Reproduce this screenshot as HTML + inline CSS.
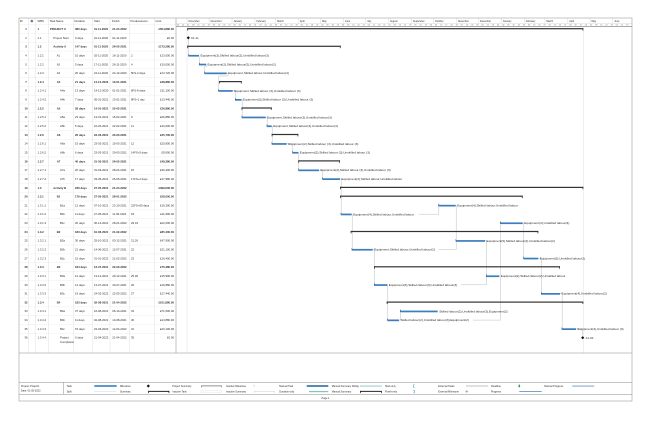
<!DOCTYPE html>
<html><head><meta charset="utf-8"><style>
html,body{margin:0;padding:0;background:#fff;width:650px;height:421px;overflow:hidden}
svg{display:block}
text{font-family:"Liberation Sans",sans-serif;fill:#2a2a2a}
.t text{font-size:2.8px}
.b{font-weight:bold}
.lb{font-size:3.1px;fill:#333}
.c{text-anchor:middle}
.r{text-anchor:end}
.mo{font-size:2.4px;fill:#555}
.wk{font-size:1.9px;fill:#666}
.lg{font-size:2.5px;fill:#333}
</style></head><body>
<svg width="650" height="421" viewBox="0 0 650 421" xmlns="http://www.w3.org/2000/svg">
<rect width="650" height="421" fill="#fff"/>

<!-- table column lines -->
<g stroke="#d2d2d2" stroke-width="0.35">
<line x1="28.3" y1="18" x2="28.3" y2="353"/>
<line x1="35.7" y1="18" x2="35.7" y2="353"/>
<line x1="48.3" y1="18" x2="48.3" y2="353"/>
<line x1="73.3" y1="18" x2="73.3" y2="353"/>
<line x1="92.7" y1="18" x2="92.7" y2="353"/>
<line x1="110" y1="18" x2="110" y2="353"/>
<line x1="129.3" y1="18" x2="129.3" y2="353"/>
<line x1="154.3" y1="18" x2="154.3" y2="353"/>
</g>
<!-- row lines -->
<g stroke="#e2e2e2" stroke-width="0.3">
<line x1="19" y1="24.6" x2="176" y2="24.6"/>
<line x1="19" y1="33.4" x2="176" y2="33.4"/>
<line x1="19" y1="42.2" x2="176" y2="42.2"/>
<line x1="19" y1="51.1" x2="176" y2="51.1"/>
<line x1="19" y1="59.9" x2="176" y2="59.9"/>
<line x1="19" y1="68.7" x2="176" y2="68.7"/>
<line x1="19" y1="77.5" x2="176" y2="77.5"/>
<line x1="19" y1="86.3" x2="176" y2="86.3"/>
<line x1="19" y1="95.2" x2="176" y2="95.2"/>
<line x1="19" y1="104.0" x2="176" y2="104.0"/>
<line x1="19" y1="112.8" x2="176" y2="112.8"/>
<line x1="19" y1="121.6" x2="176" y2="121.6"/>
<line x1="19" y1="130.4" x2="176" y2="130.4"/>
<line x1="19" y1="139.3" x2="176" y2="139.3"/>
<line x1="19" y1="148.1" x2="176" y2="148.1"/>
<line x1="19" y1="156.9" x2="176" y2="156.9"/>
<line x1="19" y1="165.7" x2="176" y2="165.7"/>
<line x1="19" y1="174.5" x2="176" y2="174.5"/>
<line x1="19" y1="183.4" x2="176" y2="183.4"/>
<line x1="19" y1="192.2" x2="176" y2="192.2"/>
<line x1="19" y1="201.0" x2="176" y2="201.0"/>
<line x1="19" y1="209.8" x2="176" y2="209.8"/>
<line x1="19" y1="218.6" x2="176" y2="218.6"/>
<line x1="19" y1="227.5" x2="176" y2="227.5"/>
<line x1="19" y1="236.3" x2="176" y2="236.3"/>
<line x1="19" y1="245.1" x2="176" y2="245.1"/>
<line x1="19" y1="253.9" x2="176" y2="253.9"/>
<line x1="19" y1="262.7" x2="176" y2="262.7"/>
<line x1="19" y1="271.6" x2="176" y2="271.6"/>
<line x1="19" y1="280.4" x2="176" y2="280.4"/>
<line x1="19" y1="289.2" x2="176" y2="289.2"/>
<line x1="19" y1="298.0" x2="176" y2="298.0"/>
<line x1="19" y1="306.8" x2="176" y2="306.8"/>
<line x1="19" y1="315.7" x2="176" y2="315.7"/>
<line x1="19" y1="324.5" x2="176" y2="324.5"/>
<line x1="19" y1="333.3" x2="176" y2="333.3"/>
</g>

<!-- gantt guide lines -->
<g stroke="#d6d6d6" stroke-width="0.4">
<line x1="187" y1="26.6" x2="187" y2="353"/>
<line x1="583.3" y1="26.6" x2="583.3" y2="353"/>
</g>

<!-- timeline header -->
<g stroke="#bdbdbd" stroke-width="0.3">
<line x1="176" y1="23.3" x2="632" y2="23.3"/>
<line x1="209.1" y1="18" x2="209.1" y2="23.3"/><line x1="232" y1="18" x2="232" y2="23.3"/><line x1="254.9" y1="18" x2="254.9" y2="23.3"/><line x1="275.6" y1="18" x2="275.6" y2="23.3"/><line x1="298.4" y1="18" x2="298.4" y2="23.3"/><line x1="320.6" y1="18" x2="320.6" y2="23.3"/><line x1="343.5" y1="18" x2="343.5" y2="23.3"/><line x1="365.6" y1="18" x2="365.6" y2="23.3"/><line x1="388.5" y1="18" x2="388.5" y2="23.3"/><line x1="411.4" y1="18" x2="411.4" y2="23.3"/><line x1="433.5" y1="18" x2="433.5" y2="23.3"/><line x1="456.4" y1="18" x2="456.4" y2="23.3"/><line x1="478.5" y1="18" x2="478.5" y2="23.3"/><line x1="501.4" y1="18" x2="501.4" y2="23.3"/><line x1="524.3" y1="18" x2="524.3" y2="23.3"/><line x1="544.9" y1="18" x2="544.9" y2="23.3"/><line x1="567.8" y1="18" x2="567.8" y2="23.3"/><line x1="590" y1="18" x2="590" y2="23.3"/><line x1="612.8" y1="18" x2="612.8" y2="23.3"/><line x1="187" y1="18" x2="187" y2="23.3"/>
</g>
<line x1="176" y1="26.6" x2="632" y2="26.6" stroke="#555" stroke-width="0.5"/>
<g class="mo">
<text x="188.5" y="22.1">November</text><text x="210.6" y="22.1">December</text><text x="233.5" y="22.1">January</text><text x="256.4" y="22.1">February</text><text x="277.1" y="22.1">March</text><text x="299.9" y="22.1">April</text><text x="322.1" y="22.1">May</text><text x="345" y="22.1">June</text><text x="367.1" y="22.1">July</text><text x="390" y="22.1">August</text><text x="412.9" y="22.1">September</text><text x="435" y="22.1">October</text><text x="457.9" y="22.1">November</text><text x="480" y="22.1">December</text><text x="502.9" y="22.1">January</text><text x="525.8" y="22.1">February</text><text x="546.4" y="22.1">March</text><text x="569.3" y="22.1">April</text><text x="591.5" y="22.1">May</text><text x="614.3" y="22.1">June</text>
</g>
<text class="wk" y="25.7"><tspan x="176.7">18</tspan><tspan x="181.9">25</tspan><tspan x="187.0">01</tspan><tspan x="192.2">08</tspan><tspan x="197.4">15</tspan><tspan x="202.5">22</tspan><tspan x="207.7">29</tspan><tspan x="212.9">06</tspan><tspan x="218.0">13</tspan><tspan x="223.2">20</tspan><tspan x="228.4">27</tspan><tspan x="233.5">03</tspan><tspan x="238.7">10</tspan><tspan x="243.9">17</tspan><tspan x="249.0">24</tspan><tspan x="254.2">31</tspan><tspan x="259.4">07</tspan><tspan x="264.5">14</tspan><tspan x="269.7">21</tspan><tspan x="274.9">28</tspan><tspan x="280.0">07</tspan><tspan x="285.2">14</tspan><tspan x="290.4">21</tspan><tspan x="295.5">28</tspan><tspan x="300.7">04</tspan><tspan x="305.9">11</tspan><tspan x="311.0">18</tspan><tspan x="316.2">25</tspan><tspan x="321.4">02</tspan><tspan x="326.5">09</tspan><tspan x="331.7">16</tspan><tspan x="336.8">23</tspan><tspan x="342.0">30</tspan><tspan x="347.2">06</tspan><tspan x="352.3">13</tspan><tspan x="357.5">20</tspan><tspan x="362.7">27</tspan><tspan x="367.8">04</tspan><tspan x="373.0">11</tspan><tspan x="378.2">18</tspan><tspan x="383.3">25</tspan><tspan x="388.5">01</tspan><tspan x="393.7">08</tspan><tspan x="398.8">15</tspan><tspan x="404.0">22</tspan><tspan x="409.2">29</tspan><tspan x="414.3">05</tspan><tspan x="419.5">12</tspan><tspan x="424.7">19</tspan><tspan x="429.8">26</tspan><tspan x="435.0">03</tspan><tspan x="440.2">10</tspan><tspan x="445.3">17</tspan><tspan x="450.5">24</tspan><tspan x="455.7">31</tspan><tspan x="460.8">07</tspan><tspan x="466.0">14</tspan><tspan x="471.2">21</tspan><tspan x="476.3">28</tspan><tspan x="481.5">05</tspan><tspan x="486.7">12</tspan><tspan x="491.8">19</tspan><tspan x="497.0">26</tspan><tspan x="502.2">02</tspan><tspan x="507.3">09</tspan><tspan x="512.5">16</tspan><tspan x="517.7">23</tspan><tspan x="522.8">30</tspan><tspan x="528.0">06</tspan><tspan x="533.2">13</tspan><tspan x="538.3">20</tspan><tspan x="543.5">27</tspan><tspan x="548.7">06</tspan><tspan x="553.8">13</tspan><tspan x="559.0">20</tspan><tspan x="564.2">27</tspan><tspan x="569.3">03</tspan><tspan x="574.5">10</tspan><tspan x="579.7">17</tspan><tspan x="584.8">24</tspan><tspan x="590.0">01</tspan><tspan x="595.2">08</tspan><tspan x="600.3">15</tspan><tspan x="605.5">22</tspan><tspan x="610.7">29</tspan><tspan x="615.8">05</tspan><tspan x="621.0">12</tspan><tspan x="626.2">19</tspan></text>

<!-- table header -->
<g class="t">
<text x="19.8" y="21.9">ID</text>
<circle cx="31.8" cy="21" r="1.3" fill="#5d7fa6"/>
<text x="37.5" y="21.9">WBS</text>
<text x="49.5" y="21.9">Task Name</text>
<text x="74.5" y="21.9">Duration</text>
<text x="94" y="21.9">Start</text>
<text x="112" y="21.9">Finish</text>
<text x="130.5" y="21.9">Predecessors</text>
<text x="155.5" y="21.9">Cost</text>
</g>

<!-- table rows -->
<g class="t">
<g class="b"><text class="c" x="26" y="30">1</text><text y="30"><tspan x="37.5">1</tspan><tspan x="50">PROJECT X</tspan><tspan x="75">380 days</tspan><tspan x="94">01-11-2020</tspan><tspan x="112.3">21-04-2022</tspan></text><text class="r" x="174" y="30">£654,880.00</text></g>
<text class="c" x="26" y="38.8">2</text><text y="38.8"><tspan x="37.5">1.1</tspan><tspan x="53.3">Project Start</tspan><tspan x="75">0 days</tspan><tspan x="94">01-11-2020</tspan><tspan x="112.3">01-11-2020</tspan></text><text class="r" x="174" y="38.8">£0.00</text>
<g class="b"><text class="c" x="26" y="47.6">3</text><text y="47.6"><tspan x="37.5">1.2</tspan><tspan x="53.3">Activity A</tspan><tspan x="75">147 days</tspan><tspan x="94">01-11-2020</tspan><tspan x="112.3">26-05-2021</tspan></text><text class="r" x="174" y="47.6">£175,280.00</text></g>
<text class="c" x="26" y="56.5">4</text><text y="56.5"><tspan x="37.5">1.2.1</tspan><tspan x="56.7">A1</tspan><tspan x="75">10 days</tspan><tspan x="94">02-11-2020</tspan><tspan x="112.3">16-11-2020</tspan><tspan x="131">2</tspan></text><text class="r" x="174" y="56.5">£13,000.00</text>
<text class="c" x="26" y="65.3">5</text><text y="65.3"><tspan x="37.5">1.2.2</tspan><tspan x="56.7">A2</tspan><tspan x="75">5 days</tspan><tspan x="94">17-11-2020</tspan><tspan x="112.3">26-11-2020</tspan><tspan x="131">4</tspan></text><text class="r" x="174" y="65.3">£10,000.00</text>
<text class="c" x="26" y="74.1">6</text><text y="74.1"><tspan x="37.5">1.2.3</tspan><tspan x="56.7">A3</tspan><tspan x="75">20 days</tspan><tspan x="94">24-11-2020</tspan><tspan x="112.3">24-12-2020</tspan><tspan x="131">5FS-3 days</tspan></text><text class="r" x="174" y="74.1">£14,720.00</text>
<g class="b"><text class="c" x="26" y="82.9">7</text><text y="82.9"><tspan x="37.5">1.2.4</tspan><tspan x="56.7">A4</tspan><tspan x="75">21 days</tspan><tspan x="94">14-12-2020</tspan><tspan x="112.3">13-01-2021</tspan></text><text class="r" x="174" y="82.9">£38,880.00</text></g>
<text class="c" x="26" y="91.7">8</text><text y="91.7"><tspan x="37.5">1.2.4.1</tspan><tspan x="60">A4a</tspan><tspan x="75">13 days</tspan><tspan x="94">14-12-2020</tspan><tspan x="112.3">01-01-2021</tspan><tspan x="131">6FS-8 days</tspan></text><text class="r" x="174" y="91.7">£11,100.00</text>
<text class="c" x="26" y="100.6">9</text><text y="100.6"><tspan x="37.5">1.2.4.2</tspan><tspan x="60">A4b</tspan><tspan x="75">7 days</tspan><tspan x="94">05-01-2021</tspan><tspan x="112.3">13-01-2021</tspan><tspan x="131">8FS+1 day</tspan></text><text class="r" x="174" y="100.6">£13,440.00</text>
<g class="b"><text class="c" x="26" y="109.4">10</text><text y="109.4"><tspan x="37.5">1.2.5</tspan><tspan x="56.7">A5</tspan><tspan x="75">28 days</tspan><tspan x="94">14-01-2021</tspan><tspan x="112.3">22-02-2021</tspan></text><text class="r" x="174" y="109.4">£36,880.00</text></g>
<text class="c" x="26" y="118.2">11</text><text y="118.2"><tspan x="37.5">1.2.5.1</tspan><tspan x="60">A5a</tspan><tspan x="75">23 days</tspan><tspan x="94">14-01-2021</tspan><tspan x="112.3">15-02-2021</tspan><tspan x="131">9</tspan></text><text class="r" x="174" y="118.2">£26,880.00</text>
<text class="c" x="26" y="127">12</text><text y="127"><tspan x="37.5">1.2.5.2</tspan><tspan x="60">A5b</tspan><tspan x="75">5 days</tspan><tspan x="94">16-02-2021</tspan><tspan x="112.3">22-02-2021</tspan><tspan x="131">11</tspan></text><text class="r" x="174" y="127">£10,000.00</text>
<g class="b"><text class="c" x="26" y="135.8">13</text><text y="135.8"><tspan x="37.5">1.2.6</tspan><tspan x="56.7">A6</tspan><tspan x="75">26 days</tspan><tspan x="94">23-02-2021</tspan><tspan x="112.3">30-03-2021</tspan></text><text class="r" x="174" y="135.8">£35,700.00</text></g>
<text class="c" x="26" y="144.7">14</text><text y="144.7"><tspan x="37.5">1.2.6.1</tspan><tspan x="60">A6a</tspan><tspan x="75">15 days</tspan><tspan x="94">23-02-2021</tspan><tspan x="112.3">15-03-2021</tspan><tspan x="131">12</tspan></text><text class="r" x="174" y="144.7">£25,800.00</text>
<text class="c" x="26" y="153.5">15</text><text y="153.5"><tspan x="37.5">1.2.6.2</tspan><tspan x="60">A6b</tspan><tspan x="75">6 days</tspan><tspan x="94">23-03-2021</tspan><tspan x="112.3">30-03-2021</tspan><tspan x="131">14FS+5 days</tspan></text><text class="r" x="174" y="153.5">£9,900.00</text>
<g class="b"><text class="c" x="26" y="162.3">16</text><text y="162.3"><tspan x="37.5">1.2.7</tspan><tspan x="56.7">A7</tspan><tspan x="75">40 days</tspan><tspan x="94">31-03-2021</tspan><tspan x="112.3">26-05-2021</tspan></text><text class="r" x="174" y="162.3">£48,380.00</text></g>
<text class="c" x="26" y="171.1">17</text><text y="171.1"><tspan x="37.5">1.2.7.1</tspan><tspan x="60">A7a</tspan><tspan x="75">20 days</tspan><tspan x="94">31-03-2021</tspan><tspan x="112.3">28-04-2021</tspan><tspan x="131">15</tspan></text><text class="r" x="174" y="171.1">£30,400.00</text>
<text class="c" x="26" y="179.9">18</text><text y="179.9"><tspan x="37.5">1.2.7.2</tspan><tspan x="60">A7b</tspan><tspan x="75">17 days</tspan><tspan x="94">03-05-2021</tspan><tspan x="112.3">26-05-2021</tspan><tspan x="131">17FS+2 days</tspan></text><text class="r" x="174" y="179.9">£17,980.00</text>
<g class="b"><text class="c" x="26" y="188.8">19</text><text y="188.8"><tspan x="37.5">1.3</tspan><tspan x="53.3">Activity B</tspan><tspan x="75">236 days</tspan><tspan x="94">27-05-2021</tspan><tspan x="112.3">21-04-2022</tspan></text><text class="r" x="174" y="188.8">£399,600.00</text></g>
<g class="b"><text class="c" x="26" y="197.6">20</text><text y="197.6"><tspan x="37.5">1.3.1</tspan><tspan x="56.7">B1</tspan><tspan x="75">176 days</tspan><tspan x="94">27-05-2021</tspan><tspan x="112.3">28-01-2022</tspan></text><text class="r" x="174" y="197.6">£58,000.00</text></g>
<text class="c" x="26" y="206.4">21</text><text y="206.4"><tspan x="37.5">1.3.1.1</tspan><tspan x="60">B1a</tspan><tspan x="75">12 days</tspan><tspan x="94">07-10-2021</tspan><tspan x="112.3">22-10-2021</tspan><tspan x="131">22FS+80 days</tspan></text><text class="r" x="174" y="206.4">£16,300.00</text>
<text class="c" x="26" y="215.2">22</text><text y="215.2"><tspan x="37.5">1.3.1.2</tspan><tspan x="60">B1b</tspan><tspan x="75">11 days</tspan><tspan x="94">27-05-2021</tspan><tspan x="112.3">11-06-2021</tspan><tspan x="131">18</tspan></text><text class="r" x="174" y="215.2">£11,990.00</text>
<text class="c" x="26" y="224">23</text><text y="224"><tspan x="37.5">1.3.1.3</tspan><tspan x="60">B1c</tspan><tspan x="75">20 days</tspan><tspan x="94">30-12-2021</tspan><tspan x="112.3">28-01-2022</tspan><tspan x="131">29,34</tspan></text><text class="r" x="174" y="224">£22,000.00</text>
<g class="b"><text class="c" x="26" y="232.9">24</text><text y="232.9"><tspan x="37.5">1.3.2</tspan><tspan x="56.7">B2</tspan><tspan x="75">183 days</tspan><tspan x="94">10-06-2021</tspan><tspan x="112.3">21-02-2022</tspan></text><text class="r" x="174" y="232.9">£85,400.00</text></g>
<text class="c" x="26" y="241.7">25</text><text y="241.7"><tspan x="37.5">1.3.2.1</tspan><tspan x="60">B2a</tspan><tspan x="75">30 days</tspan><tspan x="94">25-10-2021</tspan><tspan x="112.3">03-12-2021</tspan><tspan x="131">21,26</tspan></text><text class="r" x="174" y="241.7">£47,900.00</text>
<text class="c" x="26" y="250.5">26</text><text y="250.5"><tspan x="37.5">1.3.2.2</tspan><tspan x="60">B2b</tspan><tspan x="75">21 days</tspan><tspan x="94">14-06-2021</tspan><tspan x="112.3">12-07-2021</tspan><tspan x="131">22</tspan></text><text class="r" x="174" y="250.5">£21,100.00</text>
<text class="c" x="26" y="259.3">27</text><text y="259.3"><tspan x="37.5">1.3.2.3</tspan><tspan x="60">B2c</tspan><tspan x="75">15 days</tspan><tspan x="94">31-01-2022</tspan><tspan x="112.3">21-02-2022</tspan><tspan x="131">23</tspan></text><text class="r" x="174" y="259.3">£16,400.00</text>
<g class="b"><text class="c" x="26" y="268.1">28</text><text y="268.1"><tspan x="37.5">1.3.3</tspan><tspan x="56.7">B3</tspan><tspan x="75">184 days</tspan><tspan x="94">13-07-2021</tspan><tspan x="112.3">22-03-2022</tspan></text><text class="r" x="174" y="268.1">£75,380.00</text></g>
<text class="c" x="26" y="277">29</text><text y="277"><tspan x="37.5">1.3.3.1</tspan><tspan x="60">B3a</tspan><tspan x="75">12 days</tspan><tspan x="94">13-12-2021</tspan><tspan x="112.3">29-12-2021</tspan><tspan x="131">25,30</tspan></text><text class="r" x="174" y="277">£15,990.00</text>
<text class="c" x="26" y="285.8">30</text><text y="285.8"><tspan x="37.5">1.3.3.2</tspan><tspan x="60">B3b</tspan><tspan x="75">14 days</tspan><tspan x="94">13-07-2021</tspan><tspan x="112.3">30-07-2021</tspan><tspan x="131">26</tspan></text><text class="r" x="174" y="285.8">£16,880.00</text>
<text class="c" x="26" y="294.6">31</text><text y="294.6"><tspan x="37.5">1.3.3.3</tspan><tspan x="60">B3c</tspan><tspan x="75">19 days</tspan><tspan x="94">24-02-2022</tspan><tspan x="112.3">22-03-2022</tspan><tspan x="131">27</tspan></text><text class="r" x="174" y="294.6">£17,440.00</text>
<g class="b"><text class="c" x="26" y="303.4">32</text><text y="303.4"><tspan x="37.5">1.3.4</tspan><tspan x="56.7">B4</tspan><tspan x="75">183 days</tspan><tspan x="94">02-08-2021</tspan><tspan x="112.3">21-04-2022</tspan></text><text class="r" x="174" y="303.4">£101,880.00</text></g>
<text class="c" x="26" y="312.2">33</text><text y="312.2"><tspan x="37.5">1.3.4.1</tspan><tspan x="60">B4a</tspan><tspan x="75">37 days</tspan><tspan x="94">16-08-2021</tspan><tspan x="112.3">06-10-2021</tspan><tspan x="131">34</tspan></text><text class="r" x="174" y="312.2">£71,500.00</text>
<text class="c" x="26" y="321.1">34</text><text y="321.1"><tspan x="37.5">1.3.4.2</tspan><tspan x="60">B4b</tspan><tspan x="75">11 days</tspan><tspan x="94">02-08-2021</tspan><tspan x="112.3">13-08-2021</tspan><tspan x="131">30</tspan></text><text class="r" x="174" y="321.1">£13,880.00</text>
<text class="c" x="26" y="329.9">35</text><text y="329.9"><tspan x="37.5">1.3.4.3</tspan><tspan x="60">B4c</tspan><tspan x="75">15 days</tspan><tspan x="94">23-03-2022</tspan><tspan x="112.3">12-04-2022</tspan><tspan x="131">31</tspan></text><text class="r" x="174" y="329.9">£20,100.00</text>
<text class="c" x="26" y="338.7">36</text><text y="338.7"><tspan x="37.5">1.3.4.4</tspan><tspan x="60">Project</tspan><tspan x="75">0 days</tspan><tspan x="94">21-04-2022</tspan><tspan x="112.3">21-04-2022</tspan><tspan x="131">35</tspan></text><text class="r" x="174" y="338.7">£0.00</text>
<text x="60" y="342.8">Completion</text>
</g>

<!-- link lines -->
<g stroke="#9fb0c2" stroke-width="0.4" fill="none">
<path d="M188.6 39 V53.8"/>
<path d="M199.5 56.5 V62.8"/>
<path d="M206 64.3 H206.5 V66.5 H204.8 V71.6"/>
<path d="M226.7 73.1 H228 V76 H218.8 V89.2"/>
<path d="M232.7 90.7 H235.5 V98"/>
<path d="M241.5 99.6 H242.2 V115.7"/>
<path d="M265.7 117.2 H267.2 V124.5"/>
<path d="M271.7 126 H272.2 V142.2"/>
<path d="M286.7 143.7 H292.8 V151"/>
<path d="M298.3 152.5 H298.8 V168.6"/>
<path d="M319 170.1 H322.8 V177.4"/>
<path d="M340 178.9 H341.2 V212.7"/>
<path d="M351.7 214.2 H352.2 V248"/>
<path d="M372.7 249.5 H374.5 V283.3"/>
<path d="M387.3 284.8 H387.8 V318.6"/>
<path d="M399 320.1 H400.5 V312.7"/>
<path d="M419 214.2 H438.8 V206.9"/>
<path d="M455.7 205.4 H456.2 V239.2"/>
<path d="M439 249.5 H456.2 V242.2"/>
<path d="M485 240.7 H486.5 V274.5"/>
<path d="M461 284.8 H486.5 V277.5"/>
<path d="M499.3 276 H500.5 V224.5"/>
<path d="M473 320.1 H500.5 V277"/>
<path d="M522.7 223 H523.8 V256.8"/>
<path d="M538.3 258.3 H541.5 V292.1"/>
<path d="M560 293.6 H562.2 V327.4"/>
<path d="M576 328.9 H582.7 V335.5"/>
</g>

<!-- summary bars -->
<g fill="#333">
<rect x="187.3" y="28.1" width="396" height="1.2"/><rect x="187.3" y="28.1" width="0.8" height="2.5"/><rect x="582.5" y="28.1" width="0.8" height="2.5"/>
<rect x="187.3" y="45.7" width="153.4" height="1.2"/><rect x="187.3" y="45.7" width="0.8" height="2.5"/><rect x="339.9" y="45.7" width="0.8" height="2.5"/>
<rect x="219" y="81" width="22.7" height="1.2"/><rect x="219" y="81" width="0.8" height="2.5"/><rect x="240.9" y="81" width="0.8" height="2.5"/>
<rect x="241.5" y="107.4" width="30.2" height="1.2"/><rect x="241.5" y="107.4" width="0.8" height="2.5"/><rect x="270.9" y="107.4" width="0.8" height="2.5"/>
<rect x="271.7" y="133.9" width="26.6" height="1.2"/><rect x="271.7" y="133.9" width="0.8" height="2.5"/><rect x="297.5" y="133.9" width="0.8" height="2.5"/>
<rect x="298.3" y="160.3" width="41.7" height="1.2"/><rect x="298.3" y="160.3" width="0.8" height="2.5"/><rect x="339.2" y="160.3" width="0.8" height="2.5"/>
<rect x="340" y="186.8" width="243.3" height="1.2"/><rect x="340" y="186.8" width="0.8" height="2.5"/><rect x="582.5" y="186.8" width="0.8" height="2.5"/>
<rect x="340" y="195.6" width="182.7" height="1.2"/><rect x="340" y="195.6" width="0.8" height="2.5"/><rect x="521.9" y="195.6" width="0.8" height="2.5"/>
<rect x="350.7" y="230.9" width="187.6" height="1.2"/><rect x="350.7" y="230.9" width="0.8" height="2.5"/><rect x="537.5" y="230.9" width="0.8" height="2.5"/>
<rect x="374" y="266.2" width="186" height="1.2"/><rect x="374" y="266.2" width="0.8" height="2.5"/><rect x="559.2" y="266.2" width="0.8" height="2.5"/>
<rect x="386.7" y="301.5" width="196.6" height="1.2"/><rect x="386.7" y="301.5" width="0.8" height="2.5"/><rect x="582.5" y="301.5" width="0.8" height="2.5"/>
</g>

<!-- milestones -->
<g fill="#111">
<path d="M188.3 36.2 L189.9 37.8 L188.3 39.4 L186.7 37.8 Z"/>
<path d="M582.7 336.1 L584.3 337.7 L582.7 339.3 L581.1 337.7 Z"/>
</g>
<text class="lb" x="191" y="38.9">01-11</text>
<text class="lb" x="585.6" y="338.8">21-04</text>

<!-- task bars -->
<g fill="#3c7dbf">
<rect x="188.3" y="54.9" width="10.7" height="1.7"/>
<rect x="199" y="63.7" width="7" height="1.7"/>
<rect x="204.3" y="72.5" width="22.4" height="1.7"/>
<rect x="218.3" y="90.1" width="14.4" height="1.7"/>
<rect x="235" y="99" width="6.5" height="1.7"/>
<rect x="241.7" y="116.6" width="24" height="1.7"/>
<rect x="266.7" y="125.4" width="5" height="1.7"/>
<rect x="271.7" y="143.1" width="15" height="1.7"/>
<rect x="292.3" y="151.9" width="6" height="1.7"/>
<rect x="298.3" y="169.5" width="20.7" height="1.7"/>
<rect x="322.3" y="178.3" width="17.7" height="1.7"/>
<rect x="438.3" y="204.8" width="17.4" height="1.7"/>
<rect x="340.7" y="213.6" width="11" height="1.7"/>
<rect x="500" y="222.4" width="22.7" height="1.7"/>
<rect x="455.7" y="240.1" width="29.3" height="1.7"/>
<rect x="351.7" y="248.9" width="21" height="1.7"/>
<rect x="523.3" y="257.7" width="15" height="1.7"/>
<rect x="486" y="275.4" width="13.3" height="1.7"/>
<rect x="374" y="284.2" width="13.3" height="1.7"/>
<rect x="541" y="293" width="19" height="1.7"/>
<rect x="400" y="310.6" width="37.7" height="1.7"/>
<rect x="387.3" y="319.5" width="11.7" height="1.7"/>
<rect x="561.7" y="328.3" width="14.3" height="1.7"/>
</g>
<!-- start ticks -->
<g fill="#333">
<rect x="188.3" y="53.9" width="0.5" height="1.6"/><rect x="199" y="62.7" width="0.5" height="1.6"/><rect x="204.3" y="71.5" width="0.5" height="1.6"/><rect x="218.3" y="89.1" width="0.5" height="1.6"/><rect x="235" y="98" width="0.5" height="1.6"/><rect x="241.7" y="115.6" width="0.5" height="1.6"/><rect x="266.7" y="124.4" width="0.5" height="1.6"/><rect x="271.7" y="142.1" width="0.5" height="1.6"/><rect x="292.3" y="150.9" width="0.5" height="1.6"/><rect x="298.3" y="168.5" width="0.5" height="1.6"/><rect x="322.3" y="177.3" width="0.5" height="1.6"/><rect x="438.3" y="203.8" width="0.5" height="1.6"/><rect x="340.7" y="212.6" width="0.5" height="1.6"/><rect x="500" y="221.4" width="0.5" height="1.6"/><rect x="455.7" y="239.1" width="0.5" height="1.6"/><rect x="351.7" y="247.9" width="0.5" height="1.6"/><rect x="523.3" y="256.7" width="0.5" height="1.6"/><rect x="486" y="274.4" width="0.5" height="1.6"/><rect x="374" y="283.2" width="0.5" height="1.6"/><rect x="541" y="292" width="0.5" height="1.6"/><rect x="400" y="309.6" width="0.5" height="1.6"/><rect x="387.3" y="318.5" width="0.5" height="1.6"/><rect x="561.7" y="327.3" width="0.5" height="1.6"/>
</g>

<!-- bar labels -->
<g class="lb">
<text x="200.5" y="56.6">Equipment(3),Skilled labour(2),Unskilled labour(3)</text>
<text x="207.5" y="65.4">Equipment(2),Skilled labour(2),Unskilled labour(2)</text>
<text x="228.2" y="74.2">Equipment,Skilled labour,Unskilled labour(4)</text>
<text x="234.2" y="91.8">Equipment,Skilled labour (3),Unskilled labour (3)</text>
<text x="243" y="100.7">Equipment(3),Skilled labour (3),Unskilled labour (3)</text>
<text x="267.2" y="118.3">Equipment,Skilled labour(3),Unskilled labour(3)</text>
<text x="273.2" y="127.1">Equipment,Skilled labour(3),Unskilled labour(3)</text>
<text x="288.2" y="144.8">Equipment(2),Skilled labour (3),Unskilled labour (3)</text>
<text x="299.8" y="153.6">Equipment(2),Skilled labour (3),Unskilled labour (3)</text>
<text x="320.5" y="171.2">Equipment(2),Skilled labour (3),Unskilled labour (3)</text>
<text x="341.5" y="180">Equipment(2),Skilled labour,Unskilled labour</text>
<text x="457.2" y="206.5">Equipment(4),Skilled labour,Unskilled labour</text>
<text x="353.2" y="215.3">Equipment(4),Skilled labour,Unskilled labour</text>
<text x="524.2" y="224.1">Equipment(4),Unskilled labour(4)</text>
<text x="486.5" y="241.8">Equipment(5),Skilled labour(2),Unskilled labour(2)</text>
<text x="374.2" y="250.6">Equipment,Skilled labour,Unskilled labour(2)</text>
<text x="539.8" y="259.4">Equipment(3),Unskilled labour(3)</text>
<text x="500.8" y="277.1">Equipment(2),Skilled labour(2),Unskilled labour</text>
<text x="388.8" y="285.9">Equipment(3),Skilled labour(3),Unskilled labour(3)</text>
<text x="561.5" y="294.7">Equipment(4),Unskilled labour(2)</text>
<text x="439.2" y="312.3">Skilled labour(2),Unskilled labour(3),Equipment(2)</text>
<text x="400.5" y="321.2">Skilled labour(2),Unskilled labour(3),Equipment(2)</text>
<text x="577.5" y="330">Equipment(3),Unskilled labour (3)</text>
</g>

<!-- frame lines -->
<g stroke="#8c8c8c" stroke-width="0.5" fill="none">
<rect x="19" y="18" width="613" height="383"/>
<line x1="176" y1="18" x2="176" y2="353"/>
<line x1="19" y1="353" x2="632" y2="353"/>
<line x1="19" y1="382.3" x2="632" y2="382.3"/>
<line x1="19" y1="394.3" x2="632" y2="394.3"/>
<line x1="63.3" y1="382.3" x2="63.3" y2="394.3"/>
</g>

<!-- legend -->
<g class="lg">
<text x="21" y="386.8">Project: Project1</text>
<text x="21" y="391.6">Date: 01-05-2022</text>
<text x="66.7" y="386.9">Task</text><text x="66.7" y="392.4">Split</text>
<text x="120" y="386.9">Milestone</text><text x="120" y="392.4">Summary</text>
<text x="172.3" y="386.9">Project Summary</text><text x="172.3" y="392.4">Inactive Task</text>
<text x="226" y="386.9">Inactive Milestone</text><text x="226" y="392.4">Inactive Summary</text>
<text x="279.3" y="386.9">Manual Task</text><text x="279.3" y="392.4">Duration-only</text>
<text x="331.7" y="386.9">Manual Summary Rollup</text><text x="331.7" y="392.4">Manual Summary</text>
<text x="385" y="386.9">Start-only</text><text x="385" y="392.4">Finish-only</text>
<text x="438.3" y="386.9">External Tasks</text><text x="438.3" y="392.4">External Milestone</text>
<text x="491" y="386.9">Deadline</text><text x="491" y="392.4">Progress</text>
<text x="544.3" y="386.9">Manual Progress</text>
<text x="325.5" y="398.8" class="c">Page 1</text>
</g>
<rect x="94.3" y="385.2" width="22.4" height="1.6" fill="#3c7dbf"/>
<line x1="94.3" y1="391.5" x2="116.7" y2="391.5" stroke="#9cc0e0" stroke-width="0.5" stroke-dasharray="0.6 0.4"/>
<path d="M148.3 384.4 L149.9 386 L148.3 387.6 L146.7 386 Z" fill="#111"/>
<rect x="148.3" y="390.9" width="21" height="0.9" fill="#111"/><rect x="148.3" y="390.9" width="0.7" height="2.2" fill="#111"/><rect x="168.6" y="390.9" width="0.7" height="2.2" fill="#111"/>
<rect x="201" y="385.5" width="20.7" height="0.8" fill="#777"/><rect x="201" y="385.5" width="0.6" height="2" fill="#777"/><rect x="221.1" y="385.5" width="0.6" height="2" fill="#777"/>
<rect x="201" y="390.8" width="20.7" height="1.4" fill="none" stroke="#d8d8d8" stroke-width="0.3"/>
<path d="M254 384.9 L255.1 386 L254 387.1 L252.9 386 Z" fill="none" stroke="#bbb" stroke-width="0.3"/>
<rect x="254" y="391" width="21" height="0.7" fill="#ddd"/><rect x="254" y="391" width="0.5" height="1.8" fill="#ccc"/><rect x="274.5" y="391" width="0.5" height="1.8" fill="#ccc"/>
<rect x="306.7" y="385.2" width="21.6" height="1.6" fill="#2f6aa3"/>
<rect x="309" y="390.9" width="19.3" height="1.3" fill="#7fc6cb"/>
<rect x="360" y="385.7" width="21.7" height="0.7" fill="#63b3b8"/>
<rect x="360" y="390.9" width="21.7" height="0.9" fill="#111"/><rect x="360" y="390.9" width="0.7" height="2.2" fill="#111"/><rect x="381" y="390.9" width="0.7" height="2.2" fill="#111"/>
<path d="M414.5 384.8 H413.4 V387.4 H414.5" fill="none" stroke="#3c8ea8" stroke-width="0.5"/>
<path d="M413.4 390.3 H414.5 V392.9 H413.4" fill="none" stroke="#3c8ea8" stroke-width="0.5"/>
<rect x="466" y="385.3" width="22.3" height="1.4" fill="#d2d2d2"/>
<path d="M466.7 390.1 L468.1 391.5 L466.7 392.9 L465.3 391.5 Z" fill="#aaa"/>
<path d="M518.6 384.6 H520 V386.2 H520.6 L519.3 387.6 L518 386.2 H518.6 Z" fill="#39a24f"/>
<rect x="519.3" y="391.1" width="22.4" height="0.7" fill="#3c7dbf"/>
<rect x="572.3" y="385.7" width="22" height="0.7" fill="#3c7dbf"/>
</svg>
</body></html>
